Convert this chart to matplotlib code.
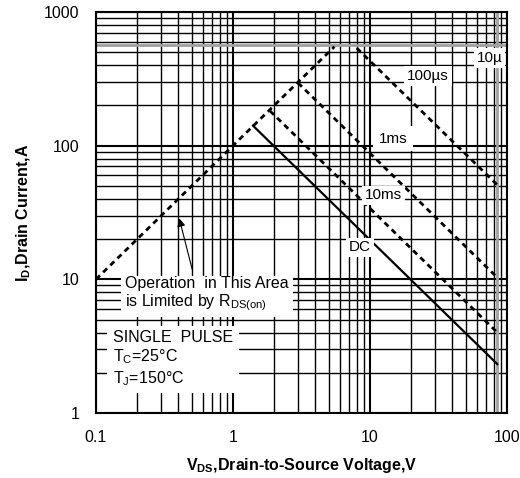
import matplotlib.pyplot as plt

plt.rcParams["font.family"] = ["Liberation Sans", "DejaVu Sans"]
plt.rcParams["mathtext.default"] = "regular"

# limit line and pulse curves (V, A)
rds_v = [0.1, 5.5]
rds_i = [10, 550]
us100_v = [8.0, 85]
us100_i = [537, 50.8]
ms1_v = [2.98, 85]
ms1_i = [295, 10.3]
ms10_v = [1.86, 85]
ms10_i = [182, 4.0]
dc_v = [1.40, 85]
dc_i = [141, 2.32]

i_limit = 570
v_limit = 85

x_ticks = [0.1, 1, 10, 100]
x_labels = ["0.1", "1", "10", "100"]
y_ticks = [1, 10, 100, 1000]
y_labels = ["1", "10", "100", "1000"]

fig = plt.figure(figsize=(5.2, 4.78), dpi=100)
ax = fig.add_axes([0.1846, 0.136, 0.7904, 0.839])
ax.set_xscale("log")
ax.set_yscale("log")
ax.set_xlim(0.1, 100)
ax.set_ylim(1, 1000)

ax.grid(True, which="major", color="black", linewidth=1.5)
ax.grid(True, which="minor", color="black", linewidth=1.0)
ax.set_axisbelow(True)
ax.axhline(i_limit, color="#a0a0a0", linewidth=2.0, zorder=1.5)
ax.axvline(v_limit, color="#a0a0a0", linewidth=2.0, zorder=1.5)

dash = (0, (2.0, 1.6))
ax.plot(rds_v, rds_i, color="black", linewidth=2, linestyle=dash, zorder=3)
ax.plot(us100_v, us100_i, color="black", linewidth=2, linestyle=dash, zorder=3)
ax.plot(ms1_v, ms1_i, color="black", linewidth=2, linestyle=dash, zorder=3)
ax.plot(ms10_v, ms10_i, color="black", linewidth=2, linestyle=dash, zorder=3)
ax.plot(dc_v, dc_i, color="black", linewidth=1.6, zorder=3)

box = dict(facecolor="white", edgecolor="none", pad=2)
ax.text(60, 454, "10µ", fontsize=11, ha="left", va="center", bbox=box, zorder=4)
ax.text(26.5, 333, "100µs", fontsize=11, ha="center", va="center", bbox=box, zorder=4)
ax.text(14.7, 113, "1ms", fontsize=11, ha="center", va="center",
        bbox=dict(facecolor="white", edgecolor="none", pad=4), zorder=4)
ax.text(12.6, 42.4, "10ms", fontsize=11, ha="center", va="center", bbox=box, zorder=4)
ax.text(8.45, 17.3, "DC", fontsize=11, ha="center", va="center", bbox=box, zorder=4)

ax.text(0.163, 7.7, "Operation  in This Area\nis Limited by R$_{DS(on)}$",
        fontsize=11.5, ha="left", va="center", linespacing=1.05,
        bbox=dict(facecolor="white", edgecolor="none", pad=3), zorder=4)
ax.text(0.133, 2.55, "SINGLE  PULSE\nT$_C$=25°C\nT$_J$=150°C",
        fontsize=11.5, ha="left", va="center", linespacing=1.2,
        bbox=dict(facecolor="white", edgecolor="none", pad=4), zorder=4)

ax.annotate("", xy=(0.4, 30), xytext=(0.51, 11.3),
            arrowprops=dict(arrowstyle="-|>", color="black", linewidth=0.8,
                            mutation_scale=12), zorder=5)

ax.set_xticks(x_ticks)
ax.set_xticklabels(x_labels)
ax.set_yticks(y_ticks)
ax.set_yticklabels(y_labels)
ax.tick_params(which="both", length=0, labelsize=11.5, pad=12)
for spine in ax.spines.values():
    spine.set_linewidth(1.5)

ax.set_xlabel("V$_{DS}$,Drain-to-Source Voltage,V", fontsize=11.5,
              fontweight="bold", labelpad=8)
ax.set_ylabel("I$_D$,Drain Current,A", fontsize=11.5, fontweight="bold",
              labelpad=8)

fig.savefig("out.png", dpi=100)
